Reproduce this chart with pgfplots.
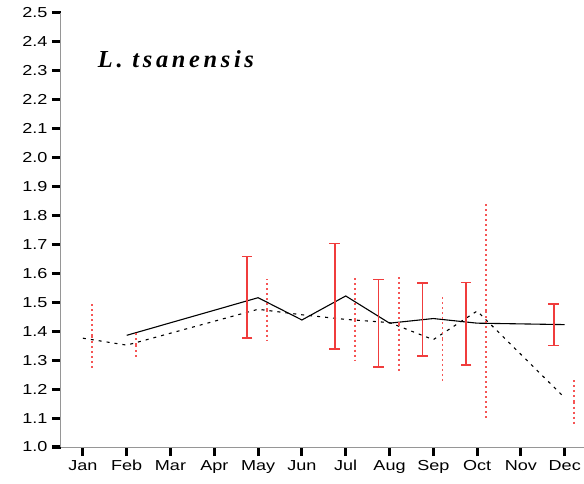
\documentclass[border=0pt]{standalone}
\usepackage{fontspec}
\usepackage{pgfplots}
\pgfplotsset{compat=1.18}
\setmainfont{Liberation Sans}
\newfontfamily\tickfont[FakeStretch=1.25]{Liberation Sans}
\newfontfamily\titlefont[LetterSpace=15]{Liberation Serif}
\newcommand\ticksize{\fontsize{14.5}{16}\selectfont}
\definecolor{barred}{RGB}{240,60,60}
\definecolor{dotred}{RGB}{245,85,85}
\definecolor{axisgray}{RGB}{150,150,150}

\begin{document}
\begin{tikzpicture}
\begin{axis}[
  name=ax, at={(0,0)}, anchor=origin,
  scale only axis, width=523bp, height=434bp,
  xmin=0.5, xmax=12.44, ymin=1.0, ymax=2.5,
  axis x line*=bottom, axis y line*=left,
  axis line style={axisgray, line width=1bp, -},
  xtick={1,...,12},
  xticklabels={Jan,Feb,Mar,Apr,May,Jun,Jul,Aug,Sep,Oct,Nov,Dec},
  ytick={1.0,1.1,...,2.51},
  tick align=outside,
  xtick style={black, line width=3bp},
  ytick style={black, line width=3bp},
  every tick label/.append style={font=\tickfont\ticksize},
  x tick label style={yshift=-1bp},
  y tick label style={xshift=-1bp},
  major tick length=9bp,
  /pgf/number format/assume math mode=true,
  yticklabel style={/pgf/number format/.cd, fixed, fixed zerofill, precision=1},
  clip=false,
]
% mean curves
\addplot[black, line width=1.1bp, mark=none] coordinates {
  (2,1.386) (5,1.516) (6,1.439) (7,1.522) (8,1.428) (9,1.444) (10,1.428) (12,1.423)};
\addplot[black, line width=1.1bp, mark=none, dash pattern=on 3bp off 5bp] coordinates {
  (1,1.376) (2,1.352) (5,1.476) (6,1.457) (7,1.441) (8,1.430) (9,1.371) (10,1.470) (12,1.170)};

% error bars, solid series (shifted left of the month)
\addplot[draw=none, mark=none, forget plot,
  error bars/.cd, y dir=both, y explicit,
  error mark=-, error mark options={barred, line width=1.7bp, mark size=5.3bp, rotate=90},
  error bar style={barred, solid, line width=1.7bp}]
  coordinates {
  (4.75,1.517) +- (0,0.141)
  (6.75,1.521) +- (0,0.182)
  (7.75,1.428) +- (0,0.151)
  (8.75,1.441) +- (0,0.127)
  (9.75,1.426) +- (0,0.143)
  (11.75,1.423) +- (0,0.072)};

% error bars, dashed series (shifted right of the month)
\addplot[draw=none, mark=none, forget plot,
  error bars/.cd, y dir=both, y explicit, error mark=none,
  error bar style={dotred, line width=1.7bp, dash pattern=on 2bp off 3bp}]
  coordinates {
  (1.21,1.384) +- (0,0.120)
  (2.21,1.352) +- (0,0.049)
  (5.21,1.475) +- (0,0.105)
  (7.21,1.440) +- (0,0.143)
  (8.21,1.426) +- (0,0.168)
  (9.21,1.374) +- (0,0.149)
  (10.21,1.470) +- (0,0.373)
  (12.21,1.157) +- (0,0.083)};

\node[anchor=base west, inner sep=0pt, font=\titlefont\bfseries\itshape\fontsize{24.5}{27}\selectfont]
  at (axis cs:1.34,2.312) {L. tsanensis};
\end{axis}
% page frame: axis corner sits 61bp from the left and 37bp from the bottom
\pgfresetboundingbox
\path (ax.south west) ++(-61bp,-37bp) rectangle ++(584bp,484bp);
\end{tikzpicture}
\end{document}
